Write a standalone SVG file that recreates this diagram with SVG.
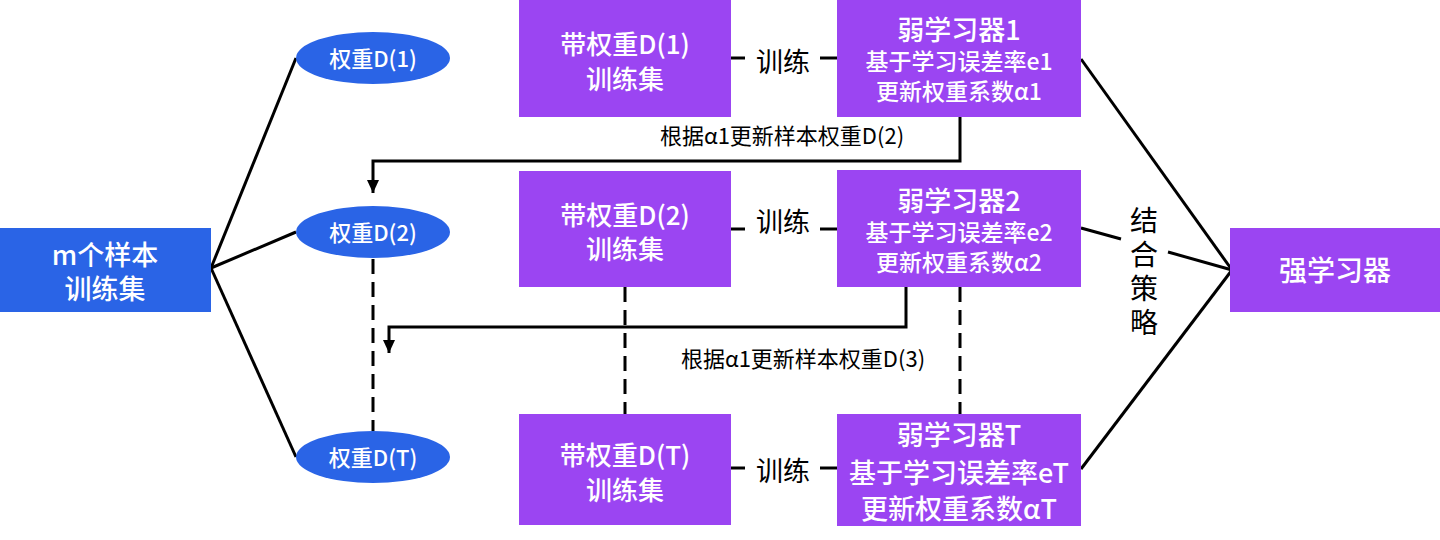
<svg xmlns="http://www.w3.org/2000/svg" width="1440" height="540" viewBox="0 0 1440 540">
<style>
text{font-family:"Noto Sans CJK SC","Noto Sans",sans-serif;text-anchor:middle;dominant-baseline:central}
.w{fill:#ffffff;font-weight:500}
.k{fill:#000000}
.blue{fill:#2A64E6}
.pur{fill:#9B45F2}
.ln{stroke:#000;stroke-width:3;fill:none}
.dash{stroke:#000;stroke-width:3;fill:none;stroke-dasharray:15 8}
.f22{font-size:22px}
.f23{font-size:23px}
.f26{font-size:26px}
.f27{font-size:27px}
.f28{font-size:28px}
.vt{writing-mode:vertical-rl;letter-spacing:6px}
</style>
<defs>
<marker id="ad" markerUnits="userSpaceOnUse" markerWidth="14" markerHeight="12" viewBox="0 0 14 12" refX="13" refY="6" orient="auto">
<path d="M0,0 L13,6 L0,12 Z" fill="#000"/>
</marker>
</defs>

<g id="connectors">
<line class="ln" x1="211" y1="268" x2="296" y2="58"/>
<line class="ln" x1="211" y1="268" x2="296" y2="232"/>
<line class="ln" x1="211" y1="268" x2="296" y2="457"/>
<line class="dash" x1="373" y1="259" x2="373" y2="431"/>
<line class="dash" x1="625" y1="287" x2="625" y2="414"/>
<line class="dash" x1="960" y1="287" x2="960" y2="414"/>
<path class="ln" d="M960,117 V161 H373 V193" marker-end="url(#ad)"/>
<path class="ln" d="M906,287 V327 H389 V353" marker-end="url(#ad)"/>
<line class="ln" x1="731" y1="58" x2="745" y2="58"/>
<line class="ln" x1="820" y1="58" x2="837" y2="58"/>
<line class="ln" x1="731" y1="229" x2="745" y2="229"/>
<line class="ln" x1="820" y1="229" x2="837" y2="229"/>
<line class="ln" x1="731" y1="468" x2="745" y2="468"/>
<line class="ln" x1="820" y1="468" x2="837" y2="468"/>
<line class="ln" x1="1081" y1="59" x2="1232" y2="270"/>
<line class="ln" x1="1081" y1="228" x2="1121" y2="239"/>
<line class="ln" x1="1168" y1="252" x2="1232" y2="270"/>
<line class="ln" x1="1081" y1="469" x2="1232" y2="270"/>
<text class="k f22" x="782" y="134">根据α1更新样本权重D(2)</text>
<text class="k f22" x="803" y="357">根据α1更新样本权重D(3)</text>
<text class="k f27" x="783" y="60">训练</text>
<text class="k f27" x="783" y="220">训练</text>
<text class="k f27" x="783" y="469">训练</text>
<text class="k f28 vt" x="1144" y="274">结合策略</text>
</g>

<g id="samples">
<rect class="blue" x="0" y="228" width="211" height="84"/>
<text class="w f27"><tspan x="105" y="253">m个样本</tspan><tspan x="105" y="287">训练集</tspan></text>
</g>

<g id="weight1">
<ellipse class="blue" cx="373" cy="58" rx="77" ry="26"/>
<text class="w f22" x="373" y="57">权重D(1)</text>
</g>
<g id="weight2">
<ellipse class="blue" cx="373" cy="232" rx="77" ry="26"/>
<text class="w f22" x="373" y="231">权重D(2)</text>
</g>
<g id="weightT">
<ellipse class="blue" cx="373" cy="457" rx="77" ry="26"/>
<text class="w f22" x="373" y="456">权重D(T)</text>
</g>

<g id="train1">
<rect class="pur" x="519" y="0" width="212" height="117"/>
<text class="w f26"><tspan x="625" y="42">带权重D(1)</tspan><tspan x="625" y="77">训练集</tspan></text>
</g>
<g id="train2">
<rect class="pur" x="519" y="171" width="212" height="116"/>
<text class="w f26"><tspan x="625" y="213">带权重D(2)</tspan><tspan x="625" y="247">训练集</tspan></text>
</g>
<g id="trainT">
<rect class="pur" x="519" y="414" width="212" height="111"/>
<text class="w f26"><tspan x="625" y="453">带权重D(T)</tspan><tspan x="625" y="488">训练集</tspan></text>
</g>

<g id="weak1">
<rect class="pur" x="837" y="0" width="244" height="117"/>
<text class="w f23"><tspan class="f27" x="959" y="28">弱学习器1</tspan><tspan x="959" y="60">基于学习误差率e1</tspan><tspan x="959" y="90">更新权重系数α1</tspan></text>
</g>
<g id="weak2">
<rect class="pur" x="837" y="170" width="244" height="117"/>
<text class="w f23"><tspan class="f27" x="959" y="199">弱学习器2</tspan><tspan x="959" y="231">基于学习误差率e2</tspan><tspan x="959" y="261">更新权重系数α2</tspan></text>
</g>
<g id="weakT">
<rect class="pur" x="837" y="414" width="244" height="112"/>
<text class="w f27"><tspan x="959" y="433">弱学习器T</tspan><tspan x="959" y="471">基于学习误差率eT</tspan><tspan x="959" y="507">更新权重系数αT</tspan></text>
</g>

<g id="strong">
<rect class="pur" x="1230" y="228" width="210" height="84"/>
<text class="w f28" x="1335" y="269">强学习器</text>
</g>
</svg>
